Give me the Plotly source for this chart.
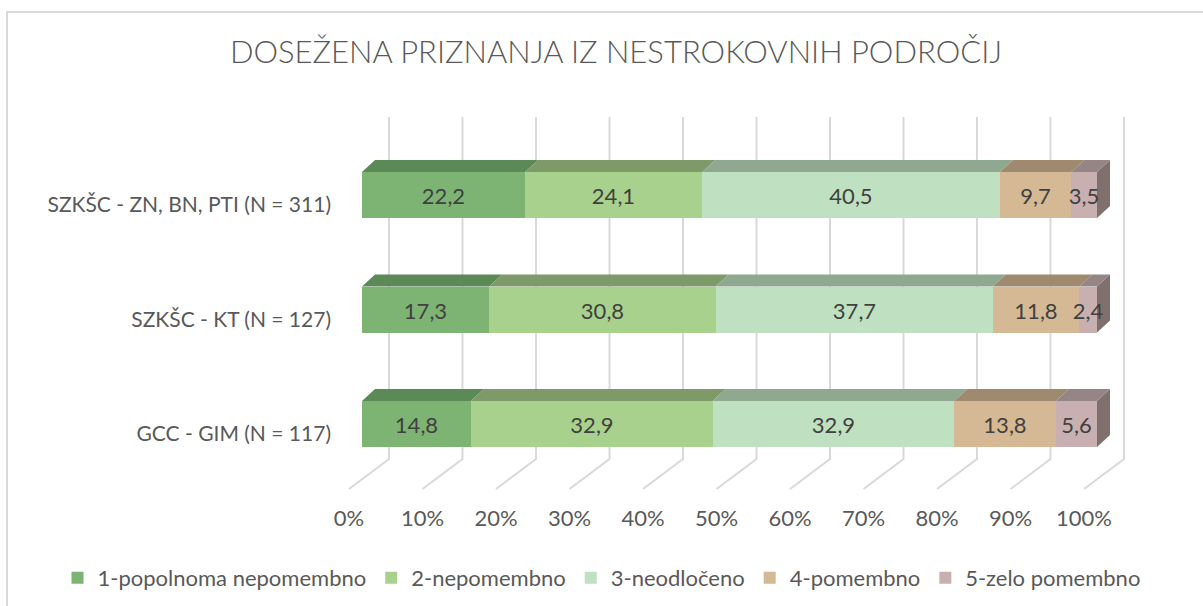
import plotly.graph_objects as go

# ---------------- data ----------------
categories = ["GCC - GIM (N = 117)", "SZKŠC - KT (N = 127)", "SZKŠC - ZN, BN, PTI (N = 311)"]
series_names = ["1-popolnoma nepomembno", "2-nepomembno", "3-neodločeno", "4-pomembno", "5-zelo pomembno"]
s1 = [14.8, 17.3, 22.2]
s2 = [32.9, 30.8, 24.1]
s3 = [32.9, 37.7, 40.5]
s4 = [13.8, 11.8, 9.7]
s5 = [5.6, 2.4, 3.5]
series_values = [s1, s2, s3, s4, s5]
tick_values = [0, 10, 20, 30, 40, 50, 60, 70, 80, 90, 100]
tick_labels = [f"{v}%" for v in tick_values]
title_text = "DOSEŽENA PRIZNANJA IZ NESTROKOVNIH PODROČIJ"

# ---------------- style ----------------
front_colors = ["#7db474", "#a9d18e", "#bfe1c1", "#d5b994", "#c8b0b0"]
top_colors = ["#5b8a56", "#7e9a69", "#8ea98f", "#a08a6f", "#968585"]
side_color = "#7f706e"
grid_color = "#d9d9d9"
FONT = "Lato"

W, H = 1203, 606
# pixel geometry of the 3D frame
X0PX, X100PX = 362, 1097
ppu_x = (X100PX - X0PX) / 100.0
xdom_px = (330, 1150)
x_range = [(xdom_px[0] - X0PX) / ppu_x, (xdom_px[1] - X0PX) / ppu_x]
x_domain = [xdom_px[0] / W, xdom_px[1] / W]

Y0PX, ppu_y = 424, 114.5
ydom_px = (100, 500)
y_range = [(Y0PX - ydom_px[1]) / ppu_y, (Y0PX - ydom_px[0]) / ppu_y]
y_domain = [(H - ydom_px[1]) / H, (H - ydom_px[0]) / H]

bar_w = 46 / ppu_y
depth_dx = 13 / ppu_x
depth_dy = 12 / ppu_y
wall_dx = 27 / ppu_x
floor_dx = -13 / ppu_x
wall_top_y = (Y0PX - 117) / ppu_y
wall_bot_y = (Y0PX - 459) / ppu_y
floor_y = (Y0PX - 489) / ppu_y

ypos = list(range(len(categories)))

fig = go.Figure()

# front faces
for name, vals, col in zip(series_names, series_values, front_colors):
    fig.add_trace(go.Bar(
        name=name, x=vals, y=ypos, orientation="h", width=bar_w,
        marker=dict(color=col, line=dict(width=0)),
        texttemplate="%{x:.1f}", textposition="inside", insidetextanchor="middle",
        constraintext="none", textangle=0,
        textfont=dict(family=FONT, size=22, color="#404040"),
        hoverinfo="skip",
    ))

# top faces
cum = [0.0] * len(categories)
for vals, col in zip(series_values, top_colors):
    xs, ys = [], []
    for i, v in enumerate(vals):
        x0, x1 = cum[i], cum[i] + v
        yt = ypos[i] + bar_w / 2
        xs += [x0, x1, x1 + depth_dx, x0 + depth_dx, x0, None]
        ys += [yt, yt, yt + depth_dy, yt + depth_dy, yt, None]
        cum[i] = x1
    fig.add_trace(go.Scatter(x=xs, y=ys, fill="toself", fillcolor=col, mode="lines",
                             line=dict(width=0, color=col), hoverinfo="skip", showlegend=False))

# helper traces for tick-label axes
fig.add_trace(go.Scatter(x=[tick_values[0], tick_values[-1]], y=[y_range[0]] * 2, xaxis="x2", yaxis="y",
                         mode="markers", marker=dict(opacity=0), hoverinfo="skip", showlegend=False))
fig.add_trace(go.Scatter(x=[x_range[0]] * len(ypos), y=ypos, xaxis="x", yaxis="y2",
                         mode="markers", marker=dict(opacity=0), hoverinfo="skip", showlegend=False))

# gridlines: back wall + floor
shapes = []
for t in tick_values:
    xw = t + wall_dx
    xf = t + floor_dx
    shapes.append(dict(type="path", xref="x", yref="y", layer="below",
                       path=f"M {xw},{wall_top_y} L {xw},{wall_bot_y} L {xf},{floor_y}",
                       line=dict(color=grid_color, width=2)))
# right side faces of the bars (below the traces so the data labels stay on top)
for i, tot in enumerate(cum):
    yt = ypos[i] + bar_w / 2
    yb = ypos[i] - bar_w / 2
    shapes.append(dict(type="path", xref="x", yref="y", layer="below",
                       path=(f"M {tot},{yb} L {tot + depth_dx},{yb + depth_dy} "
                             f"L {tot + depth_dx},{yt + depth_dy} L {tot},{yt} Z"),
                       fillcolor=side_color, line=dict(width=0)))
# chart border
shapes.append(dict(type="rect", xref="paper", yref="paper", x0=7 / W, x1=1.02, y0=-0.02, y1=(H - 12) / H,
                   line=dict(color=grid_color, width=2), layer="below"))

shift_x = -13 / W
shift_y = -10 / H
fig.update_layout(
    width=W, height=H,
    margin=dict(l=0, r=0, t=0, b=0),
    paper_bgcolor="white", plot_bgcolor="rgba(0,0,0,0)",
    barmode="stack", bargap=0,
    separators=", ",
    hovermode=False,
    shapes=shapes,
    title=dict(text=title_text, x=616 / W, xanchor="center", y=(H - 52) / H, yanchor="middle",
               font=dict(family=FONT, size=31, color="#595959", weight=300)),
    xaxis=dict(domain=x_domain, range=x_range, showgrid=False, zeroline=False, showline=False,
               showticklabels=False, ticks=""),
    yaxis=dict(domain=y_domain, range=y_range, showgrid=False, zeroline=False, showline=False,
               showticklabels=False, ticks=""),
    xaxis2=dict(domain=[x_domain[0] + shift_x, x_domain[1] + shift_x], range=x_range, anchor="free",
                position=(H - 489) / H, side="bottom", tickmode="array", tickvals=tick_values,
                ticktext=tick_labels,
                ticks="outside", ticklen=10, tickcolor="rgba(0,0,0,0)", showgrid=False, zeroline=False,
                showline=False, tickfont=dict(family=FONT, size=22, color="#595959")),
    yaxis2=dict(domain=[y_domain[0] + shift_y, y_domain[1] + shift_y], range=y_range, anchor="free",
                position=331 / W, side="left", tickvals=ypos, ticktext=categories, ticks="",
                showgrid=False, zeroline=False, showline=False,
                tickfont=dict(family=FONT, size=21, color="#595959")),
    legend=dict(orientation="h", x=0.5, xanchor="center", y=(H - 578) / H, yanchor="middle",
                font=dict(family=FONT, size=22, color="#595959"), traceorder="normal",
                itemwidth=30, bgcolor="rgba(0,0,0,0)"),
)

fig.write_html("out.html", config={"displayModeBar": False},
               post_script="document.body.style.margin='0px';")
